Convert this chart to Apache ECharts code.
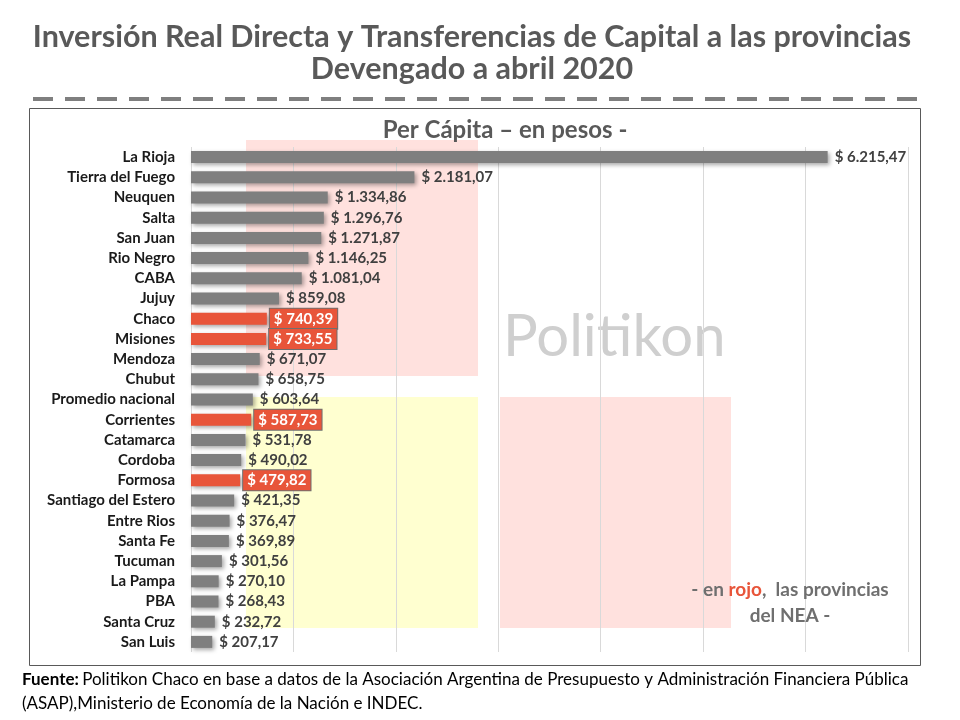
<!DOCTYPE html>
<html>
<head>
<meta charset="utf-8">
<script src="https://cdn.jsdelivr.net/npm/echarts@6/dist/echarts.min.js"></script>
<style>
html,body{margin:0;padding:0;background:#fff;}
#chart{width:960px;height:720px;}
</style>
</head>
<body>
<div id="chart"></div>
<script>
const categories = ['La Rioja','Tierra del Fuego','Neuquen','Salta','San Juan','Rio Negro','CABA','Jujuy','Chaco','Misiones','Mendoza','Chubut','Promedio nacional','Corrientes','Catamarca','Cordoba','Formosa','Santiago del Estero','Entre Rios','Santa Fe','Tucuman','La Pampa','PBA','Santa Cruz','San Luis'];
const values = [6215.47,2181.07,1334.86,1296.76,1271.87,1146.25,1081.04,859.08,740.39,733.55,671.07,658.75,603.64,587.73,531.78,490.02,479.82,421.35,376.47,369.89,301.56,270.10,268.43,232.72,207.17];
const neaProvinces = ['Chaco','Misiones','Corrientes','Formosa'];
const axisMax = 7000;
const axisStep = 1000;

const FONT = 'Lato, "Open Sans", sans-serif';
const GREY = '#7f7f7f';
const RED = '#E8553A';

function fmt(v){
  const parts = v.toFixed(2).split('.');
  const intPart = parts[0].replace(/\B(?=(\d{3})+(?!\d))/g, '.');
  return '$ ' + intPart + ',' + parts[1];
}

const barData = values.map((v,i) => {
  const nea = neaProvinces.includes(categories[i]);
  const item = { value: v, itemStyle: { color: nea ? RED : GREY } };
  if (nea) {
    item.label = {
      color: '#fff',
      backgroundColor: RED,
      borderColor: '#6f6f6f',
      borderWidth: 1,
      padding: [3, 4, 2, 4],
      distance: 3
    };
  }
  return item;
});

const chart = echarts.init(document.getElementById('chart'), null, {renderer:'canvas'});
chart.setOption({
  backgroundColor: '#fff',
  animation: false,
  grid: { left: 191, right: 52, top: 147, bottom: 68 },
  xAxis: {
    type: 'value', min: 0, max: axisMax, interval: axisStep,
    axisLabel: { show: false }, axisTick: { show: false }, axisLine: { show: false },
    splitLine: { show: true, lineStyle: { color: '#d9d9d9', width: 1 } }
  },
  yAxis: {
    type: 'category', data: categories, inverse: true,
    axisLine: { show: false }, axisTick: { show: false },
    axisLabel: { fontFamily: FONT, fontWeight: 'bold', fontSize: 15, color: '#1a1a1a', margin: 16 }
  },
  series: [{
    type: 'bar', data: barData, barWidth: 12,
    itemStyle: { shadowBlur: 4, shadowOffsetX: 2, shadowOffsetY: 2, shadowColor: 'rgba(0,0,0,0.35)' },
    label: {
      show: true, position: 'right', distance: 7,
      fontFamily: FONT, fontWeight: 'bold', fontSize: 15, color: '#404040',
      formatter: p => fmt(p.value)
    },
    z: 3
  }],
  graphic: [
    // watermark squares
    { type: 'rect', z: -10, shape: { x: 246, y: 140, width: 232, height: 236 }, style: { fill: 'rgba(255,170,160,0.35)' } },
    { type: 'rect', z: -10, shape: { x: 246, y: 397, width: 232, height: 231 }, style: { fill: 'rgba(255,255,170,0.55)' } },
    { type: 'rect', z: -10, shape: { x: 500, y: 397, width: 231, height: 231 }, style: { fill: 'rgba(255,170,160,0.35)' } },
    { type: 'text', z: -5, left: 503, top: 308, style: { text: 'Politikon', font: 'normal 58px ' + FONT, fill: '#cfcfcf', shadowBlur: 2, shadowColor: 'rgba(200,200,200,0.8)' } },
    // box
    { type: 'rect', z: 0, shape: { x: 29.5, y: 108.5, width: 891, height: 557 }, style: { fill: 'none', stroke: '#595959', lineWidth: 1 } },
    // titles
    { type: 'text', z: 10, x: 472, y: 37, style: { text: 'Inversión Real Directa y Transferencias de Capital a las provincias', font: 'bold 30.5px ' + FONT, fill: '#595959', textAlign: 'center', textVerticalAlign: 'middle' } },
    { type: 'text', z: 10, x: 472, y: 69, style: { text: 'Devengado a abril 2020', font: 'bold 30.5px ' + FONT, fill: '#595959', textAlign: 'center', textVerticalAlign: 'middle' } },
    { type: 'line', z: 10, shape: { x1: 33, y1: 99, x2: 920, y2: 99 }, style: { stroke: GREY, lineWidth: 4, lineDash: [20, 12] } },
    { type: 'text', z: 10, x: 505, y: 130, style: { text: 'Per Cápita – en pesos -', font: 'bold 24px ' + FONT, fill: '#595959', textAlign: 'center', textVerticalAlign: 'middle' } },
    // annotation
    { type: 'text', z: 10, x: 790, y: 590, style: {
      text: '{g|- en }{r|rojo}{g|,  las provincias}', textAlign: 'center', textVerticalAlign: 'middle',
      rich: { g: { font: 'bold 19px ' + FONT, fill: '#6f6f6f' }, r: { font: 'bold 19px ' + FONT, fill: RED } } } },
    { type: 'text', z: 10, x: 790, y: 616, style: { text: 'del NEA -', font: 'bold 19px ' + FONT, fill: '#6f6f6f', textAlign: 'center', textVerticalAlign: 'middle' } },
    // footer
    { type: 'text', z: 10, x: 22, y: 680, style: {
      text: '{b|Fuente:} {n|Politikon Chaco en base a datos de la Asociación Argentina de Presupuesto y Administración Financiera Pública}',
      textVerticalAlign: 'middle',
      rich: { b: { font: 'bold 17px ' + FONT, fill: '#000' }, n: { font: 'normal 17px ' + FONT, fill: '#000' } } } },
    { type: 'text', z: 10, x: 22, y: 704, style: { text: '(ASAP),Ministerio de Economía de la Nación e INDEC.', font: 'normal 17px ' + FONT, fill: '#000', textVerticalAlign: 'middle' } }
  ]
});
</script>
</body>
</html>
